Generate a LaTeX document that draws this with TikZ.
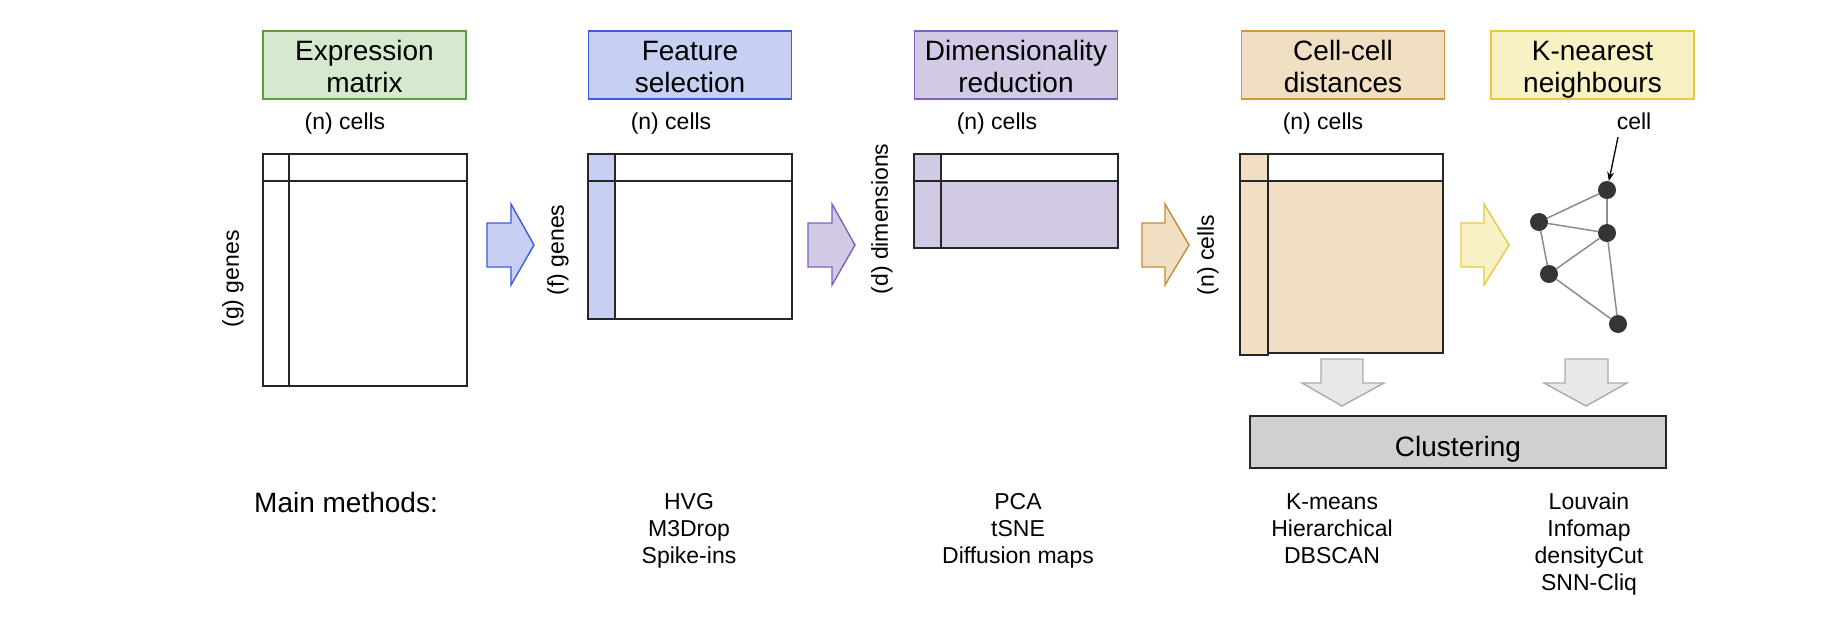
\documentclass[tikz,border=0pt]{standalone}
\usepackage{fontspec}
\setmainfont{Liberation Sans}
\usetikzlibrary{arrows.meta}
\definecolor{gfill}{HTML}{D6E9CF}
\definecolor{gdraw}{HTML}{5E9A3E}
\definecolor{bfill}{HTML}{C7D0F2}
\definecolor{bdraw}{HTML}{3D5DDB}
\definecolor{pfill}{HTML}{D2C9E5}
\definecolor{pdraw}{HTML}{7D62C4}
\definecolor{ofill}{HTML}{F1DFC3}
\definecolor{odraw}{HTML}{D3963F}
\definecolor{oarr}{HTML}{C68B3A}
\definecolor{yfill}{HTML}{F8F1C4}
\definecolor{ydraw}{HTML}{E8C840}
\definecolor{dfill}{HTML}{E8E8E8}
\definecolor{ddraw}{HTML}{ABABAB}
\definecolor{cfill}{HTML}{D0D0D0}
\definecolor{mline}{HTML}{262626}
\definecolor{gnodec}{HTML}{353535}
\definecolor{gedgec}{HTML}{8C8C8C}
\newcommand{\myrarr}[5]{%
  \draw[fill=#4, draw=#5, line width=1.4pt, line join=miter]
    (#1,223) -- (#2,223) -- (#2,204) -- (#3,245) -- (#2,285) -- (#2,267) -- (#1,267) -- cycle;}
\newcommand{\mydarr}[5]{%
  \draw[fill=dfill, draw=ddraw, line width=1.4pt, line join=miter]
    (#1,359) -- (#2,359) -- (#2,383) -- (#4,383) -- (#5,406) -- (#3,383) -- (#1,383) -- cycle;}
\begin{document}
\begin{tikzpicture}[x=1pt,y=-1pt,
  hbox/.style={draw, line width=1.4pt, minimum width=203pt, minimum height=68pt, inner sep=0pt},
  htext/.style={anchor=base, inner sep=0pt, font=\fontsize{28}{32}\selectfont},
  small/.style={inner sep=0pt, font=\fontsize{23}{27}\selectfont},
  mline/.style={draw=mline, line width=1.6pt},
  gnode/.style={circle, fill=gnodec, minimum size=18pt, inner sep=0pt},
  gedge/.style={draw=gedgec, line width=1.5pt},
]
\useasboundingbox[fill=white] (0,0) rectangle (1846,622);

% header boxes
\node[hbox, fill=gfill, draw=gdraw] (h1) at (364.5,65) {};
\node[htext] (h1a) at (364.5,60) {Expression};
\node[htext] (h1b) at (364.5,92) {matrix};
\node[hbox, fill=bfill, draw=bdraw] (h2) at (690,65) {};
\node[htext] (h2a) at (690,60) {Feature};
\node[htext] (h2b) at (690,92) {selection};
\node[hbox, fill=pfill, draw=pdraw] (h3) at (1016,65) {};
\node[htext] (h3a) at (1016,60) {Dimensionality};
\node[htext] (h3b) at (1016,92) {reduction};
\node[hbox, fill=ofill, draw=odraw] (h4) at (1343,65) {};
\node[htext] (h4a) at (1343,60) {Cell-cell};
\node[htext] (h4b) at (1343,92) {distances};
\node[hbox, fill=yfill, draw=ydraw] (h5) at (1592.5,65) {};
\node[htext] (h5a) at (1592.5,60) {K-nearest};
\node[htext] (h5b) at (1592.5,92) {neighbours};

% (n) cells labels
\node[small, anchor=base] (c1) at (345,129) {(n) cells};
\node[small, anchor=base] (c2) at (671,129) {(n) cells};
\node[small, anchor=base] (c3) at (997,129) {(n) cells};
\node[small, anchor=base] (c4) at (1323,129) {(n) cells};

% side labels
\node[small, rotate=90] (s1) at (233,279) {(g) genes};
\node[small, rotate=90] (s2) at (558,250) {(f) genes};
\node[small, rotate=90] (s3) at (882,219) {(d) dimensions};
\node[small, rotate=90] (s4) at (1208,255) {(n) cells};

% matrix 1: expression
\draw[mline] (263,154) rectangle (467,386);
\draw[mline] (263,181) -- (467,181);
\draw[mline] (289,154) -- (289,386);

% matrix 2: feature selection
\fill[bfill] (588,154) rectangle (615,319);
\draw[mline] (588,154) rectangle (792,319);
\draw[mline] (588,181) -- (792,181);
\draw[mline] (615,154) -- (615,319);

% matrix 3: dimensionality reduction
\fill[pfill] (914,154) rectangle (941,248);
\fill[pfill] (941,181) rectangle (1118,248);
\draw[mline] (914,154) rectangle (1118,248);
\draw[mline, line width=2.4pt] (914,181) -- (1118,181);
\draw[mline] (941,154) -- (941,248);

% matrix 4: cell-cell distances
\fill[ofill] (1240,154) rectangle (1268,355);
\fill[ofill] (1268,181) rectangle (1443,353);
\draw[mline] (1268,154) rectangle (1443,353);
\draw[mline] (1240,154) rectangle (1268,355);
\draw[mline] (1268,181) -- (1443,181);
\draw[mline] (1240,181) -- (1268,181);

% right arrows
\myrarr{487}{511}{534}{bfill}{bdraw}
\myrarr{808}{832}{855}{pfill}{pdraw}
\myrarr{1142}{1165}{1189}{ofill}{oarr}
\myrarr{1461}{1484}{1509}{yfill}{ydraw}

% KNN graph
\node[gnode] (n1) at (1607,190) {};
\node[gnode] (n2) at (1539,222) {};
\node[gnode] (n3) at (1607,233) {};
\node[gnode] (n4) at (1549,274) {};
\node[gnode] (n5) at (1618,324) {};
\draw[gedge] (n1) -- (n2);
\draw[gedge] (n1) -- (n3);
\draw[gedge] (n2) -- (n3);
\draw[gedge] (n2) -- (n4);
\draw[gedge] (n3) -- (n4);
\draw[gedge] (n3) -- (n5);
\draw[gedge] (n4) -- (n5);
\node[small, anchor=base] (celllab) at (1634,129) {cell};
\coordinate (cl0) at (1618,137);
\draw[-{Stealth[length=9pt,width=7pt]}, line width=1.3pt, black] (cl0) -- (n1);

% down arrows
\mydarr{1321}{1363}{1302}{1384}{1342}
\mydarr{1565}{1608}{1544}{1627}{1586}

% clustering
\node[draw=mline, fill=cfill, line width=1.6pt, minimum width=416pt, minimum height=52pt, inner sep=0pt] (clu) at (1458,442) {};
\node[htext] (clut) at (1458,456) {Clustering};

% bottom texts
\node[anchor=base west, inner sep=0pt, font=\fontsize{28}{32}\selectfont] (mm) at (254,512) {Main methods:};
\foreach \t [count=\i] in {HVG, M3Drop, Spike-ins}
  \node[small, anchor=base] (fs\i) at (689,{482.5+27*\i}) {\t};
\foreach \t [count=\i] in {PCA, tSNE, Diffusion maps}
  \node[small, anchor=base] (dr\i) at (1018,{482.5+27*\i}) {\t};
\foreach \t [count=\i] in {K-means, Hierarchical, DBSCAN}
  \node[small, anchor=base] (cc\i) at (1332,{482.5+27*\i}) {\t};
\foreach \t [count=\i] in {Louvain, Infomap, densityCut, SNN-Cliq}
  \node[small, anchor=base] (kn\i) at (1589,{482.5+27*\i}) {\t};
\end{tikzpicture}
\end{document}
